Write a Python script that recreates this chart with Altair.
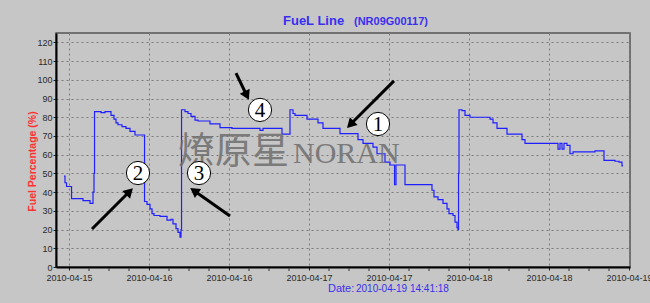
import altair as alt
import pandas as pd

# ---- data (hours since 2010-04-15 00:00, fuel %) ----
hours = [11.25, 11.40, 11.63, 12.38, 14.10, 15.15, 15.60, 15.75, 15.83, 16.80,
         17.40, 18.30, 18.75, 19.05, 19.35, 19.95, 20.55, 21.15, 21.90, 23.33,
         23.70, 24.15, 24.45, 24.75, 25.65, 26.70, 27.30, 27.60, 28.05, 28.35,
         28.65, 28.80, 28.88, 29.40, 29.85, 30.30, 30.90, 31.35, 33.15, 34.65,
         36.45, 40.65, 41.10, 43.95, 45.15, 45.60, 45.90, 47.70, 49.35, 50.10,
         52.65, 55.35, 56.10, 57.60, 58.20, 59.40, 60.15, 60.83, 61.05, 62.40,
         66.45, 66.75, 67.35, 68.10, 68.70, 69.00, 69.60, 69.90, 70.20, 70.35,
         70.43, 70.50, 70.95, 71.40, 72.15, 75.15, 75.60, 76.20, 77.70, 79.95,
         80.40, 85.35, 85.65, 85.95, 86.25, 86.70, 87.15, 87.60, 90.90, 92.25,
         93.90, 94.50, 94.95, 95.10]
fuel = [48.5, 45, 43, 36.5, 35.5, 34, 40, 50, 83, 82.5,
        83, 81, 79, 77, 76, 75, 74, 72.5, 70.5, 35,
        33.5, 31, 28.5, 27.5, 27, 25, 25.5, 23, 20.5, 18.5,
        16, 20, 84, 83, 82, 80.5, 78.5, 78, 76.5, 74.5,
        74, 73, 74, 71, 84, 82, 81, 79, 77, 74,
        71.3, 68, 66, 64, 60.5, 56, 54.5, 44, 54.5, 44,
        41, 37.5, 36, 34, 31, 28.5, 27.5, 24, 21, 20,
        50, 84, 83.5, 81, 80, 79, 77, 74, 71, 68,
        66, 63, 66, 63, 66, 65, 60.5, 61.5, 62, 57,
        56.5, 56, 54, 54]

x_tick_hours = [12, 24, 36, 48, 60, 72, 84, 96]
x_minor_hours = [15, 18, 21, 27, 30, 33, 39, 42, 45, 51, 54, 57,
                 63, 66, 69, 75, 78, 81, 87, 90, 93]
y_ticks = list(range(0, 130, 10))

# annotations (hours, value)
circle_h = [58.35, 22.35, 31.5, 40.65]
circle_v = [76.4, 50.2, 50.2, 83.9]
circle_lbl = ["1", "2", "3", "4"]

arrow_tail_h = [60.75, 15.45, 36.15, 37.05]
arrow_tail_v = [99.4, 20.3, 27.2, 103.6]
arrow_head_h = [54.2, 21.08, 30.77, 38.67]
arrow_head_v = [76.1, 40.3, 40.7, 91.6]
arrow_angle = [225, 45, 305, 154]

base = pd.Timestamp("2010-04-15 00:00:00")


def ts(h):
    return (base + pd.Timedelta(hours=h)).strftime("%Y-%m-%dT%H:%M:%S")


def dt(h):
    t = base + pd.Timedelta(hours=h)
    return alt.DateTime(year=t.year, month=t.month, date=t.day,
                        hours=t.hour, minutes=t.minute)


df = pd.DataFrame({"time": [ts(h) for h in hours], "fuel": fuel})
circ = pd.DataFrame({"time": [ts(h) for h in circle_h], "fuel": circle_v, "lbl": circle_lbl})
arr = pd.DataFrame({
    "time": [ts(h) for h in arrow_tail_h], "fuel": arrow_tail_v,
    "time2": [ts(h) for h in arrow_head_h], "fuel2": arrow_head_v,
    "ang": arrow_angle,
})
minor = pd.DataFrame({"time": [ts(h) for h in x_minor_hours]})
wm1 = pd.DataFrame({"time": [ts(28.35)], "fuel": [55.0], "t": ["燎原星"]})
wm2 = pd.DataFrame({"time": [ts(45.6)], "fuel": [55.5], "t": ["NORAN"]})

xscale = alt.Scale(domain=[dt(10.05), dt(96.15)])
yscale = alt.Scale(domain=[0, 125], nice=False)

GRID = "#7a7a7a"
FONT = "Liberation Sans"
YTITLE = "Fuel Percentage (%)"

xaxis = alt.Axis(
    values=[dt(h) for h in x_tick_hours], format="%Y-%m-%d", title=None,
    grid=True, gridDash=[2, 3], gridColor=GRID, gridWidth=1,
    domainColor="black", domainWidth=2, tickColor="#222", tickSize=3,
    labelFontSize=9, labelColor="#2a2a2a", labelFont=FONT, labelPadding=3,
    labelFlush=False, labelOverlap=False)
yaxis = alt.Axis(
    values=y_ticks, title=YTITLE, titleColor="#ff3030",
    titleFontSize=10.5, titleFontWeight="bold", titleFont=FONT,
    titleX=-24, titleY=128, titleBaseline="middle", titleAngle=270,
    grid=True, gridDash=[2, 3], gridColor=GRID, gridWidth=1,
    domainColor="black", domainWidth=2, tickColor="#222", tickSize=3,
    labelFontSize=9, labelColor="#2a2a2a", labelFont=FONT, labelPadding=1)


def X(f="time"):
    return alt.X(f"{f}:T", scale=xscale, title=None, axis=xaxis)


def Y(f="fuel"):
    return alt.Y(f"{f}:Q", scale=yscale, title=YTITLE, axis=yaxis)


line = alt.Chart(df).mark_line(interpolate="step-after", color="#1f1fff", strokeWidth=1.2).encode(
    x=X(), y=Y())

minor_ticks = alt.Chart(minor).mark_rule(color="#333333", strokeWidth=1).encode(
    x=X(), y=alt.value(235), y2=alt.value(238))

wmark1 = alt.Chart(wm1).mark_text(font="Noto Sans CJK SC", fontSize=37, color="#6e6e6e",
                                  opacity=0.85, align="left", baseline="alphabetic").encode(
    x=X(), y=Y(), text="t:N")
wmark2 = alt.Chart(wm2).mark_text(font="Liberation Serif", fontSize=30, color="#6e6e6e",
                                  opacity=0.85, align="left", baseline="alphabetic").encode(
    x=X(), y=Y(), text="t:N")

rules = alt.Chart(arr).mark_rule(color="black", strokeWidth=3).encode(
    x=X(), x2="time2:T", y=Y(), y2="fuel2:Q")
heads = alt.Chart(arr).mark_point(shape="triangle-up", filled=True, color="black", size=120, opacity=1).encode(
    x=X("time2"), y=Y("fuel2"), angle=alt.Angle("ang:Q", scale=None))

circles = alt.Chart(circ).mark_point(shape="circle", filled=True, fill="white", stroke="black",
                                     strokeWidth=1, size=540, opacity=1).encode(x=X(), y=Y())
nums = alt.Chart(circ).mark_text(font="Liberation Serif", fontSize=21, color="black",
                                 baseline="middle", dy=1).encode(x=X(), y=Y(), text="lbl:N")

title1 = alt.Chart(pd.DataFrame({"t": ["FueL Line"]})).mark_text(
    font=FONT, fontSize=13, fontWeight="bold", color="#3a2ff0", align="left", baseline="alphabetic").encode(
    text="t:N", x=alt.value(227), y=alt.value(-8))
title2 = alt.Chart(pd.DataFrame({"t": ["(NR09G00117)"]})).mark_text(
    font=FONT, fontSize=11, fontWeight="bold", color="#3a2ff0", align="left", baseline="alphabetic").encode(
    text="t:N", x=alt.value(298), y=alt.value(-8))
date1 = alt.Chart(pd.DataFrame({"t": ["Date:"]})).mark_text(
    font=FONT, fontSize=11, color="#3a2ff0", align="left", baseline="alphabetic").encode(
    text="t:N", x=alt.value(272), y=alt.value(259))
date2 = alt.Chart(pd.DataFrame({"t": ["2010-04-19 14:41:18"]})).mark_text(
    font=FONT, fontSize=10, color="#3a2ff0", align="left", baseline="alphabetic").encode(
    text="t:N", x=alt.value(300), y=alt.value(259))

chart = alt.layer(
    line, minor_ticks, wmark1, wmark2, rules, heads, circles, nums, title1, title2, date1, date2
).properties(
    width=574, height=234,
    background="#c6c6c6",
    padding={"left": 56, "top": 33, "right": 20, "bottom": 36},
    autosize=alt.AutoSizeParams(type="none"),
).configure_view(
    stroke="#555555", strokeWidth=1.5, fill="#c6c6c6"
)

chart.save("out.html", embed_options={"renderer": "svg", "actions": False})
